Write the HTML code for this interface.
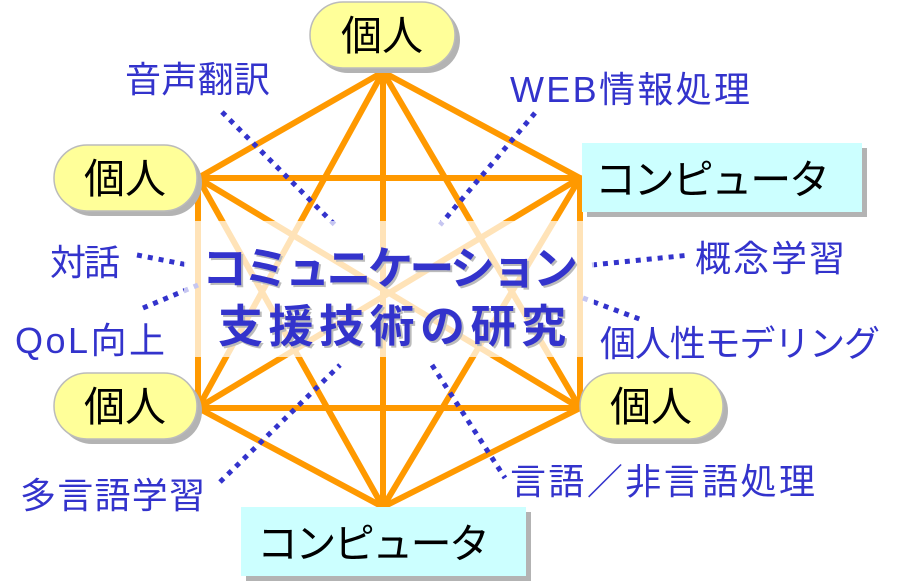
<!DOCTYPE html>
<html><head><meta charset="utf-8"><style>
body{margin:0;width:900px;height:586px;background:#fff;overflow:hidden}
svg{display:block}
.l{font-family:"Liberation Sans","Noto Sans CJK JP",sans-serif;fill:#3333cc;font-size:36px}
.n{font-family:"Liberation Sans","Noto Sans CJK JP",sans-serif;fill:#000;font-size:41px}
.c{font-family:"Liberation Sans","Noto Sans CJK JP",sans-serif;fill:#3333cc;font-size:45px;font-weight:bold}
.cs{font-family:"Liberation Sans","Noto Sans CJK JP",sans-serif;fill:#bbb;font-size:45px;font-weight:bold}
</style></head><body>
<svg width="900" height="586" viewBox="0 0 900 586">
<g stroke="#ff9900" stroke-width="6" fill="none" stroke-linecap="round">
<path d="M383,72 L198,178 L198,408 L383,507 L580,408 L580,178 Z"/>
<path d="M198,178 L580,178 M198,408 L580,408 M383,72 L383,507"/>
<path d="M383,72 L198,408 M383,72 L580,408 M198,178 L580,408 M198,178 L383,507 M580,178 L198,408 M580,178 L383,507"/>
</g>
<g stroke="#3333cc" stroke-width="5" stroke-dasharray="5 6" fill="none">
<path d="M222,112 L335,225"/>
<path d="M535,113 L440,225"/>
<path d="M137,255 L188,265"/>
<path d="M143,308 L198,285"/>
<path d="M592,265 L690,255"/>
<path d="M583,298 L642,320"/>
<path d="M220,482 L340,365"/>
<path d="M432,365 L505,478"/>
</g>
<rect x="184" y="221" width="410" height="136" fill="#fff" opacity="0.72"/>
<g>
<rect x="315" y="7" width="145" height="66" rx="33" fill="#b3b3b3"/>
<rect x="310" y="2" width="145" height="66" rx="33" fill="#ffff99" stroke="#bbb" stroke-width="1.5"/>
<text x="382" y="50" text-anchor="middle" class="n">個人</text>
<rect x="59" y="150" width="143" height="66" rx="33" fill="#b3b3b3"/>
<rect x="54" y="145" width="143" height="66" rx="33" fill="#ffff99" stroke="#bbb" stroke-width="1.5"/>
<text x="125" y="193" text-anchor="middle" class="n">個人</text>
<rect x="59" y="378" width="143" height="66" rx="33" fill="#b3b3b3"/>
<rect x="54" y="373" width="143" height="66" rx="33" fill="#ffff99" stroke="#bbb" stroke-width="1.5"/>
<text x="125" y="421" text-anchor="middle" class="n">個人</text>
<rect x="585" y="378" width="143" height="66" rx="33" fill="#b3b3b3"/>
<rect x="580" y="373" width="143" height="66" rx="33" fill="#ffff99" stroke="#bbb" stroke-width="1.5"/>
<text x="651" y="421" text-anchor="middle" class="n">個人</text>
</g>
<rect x="587" y="148" width="280" height="69" fill="#b3b3b3"/>
<rect x="582" y="143" width="280" height="69" fill="#ccffff"/>
<text x="595" y="194" class="n" textLength="235">コンピュータ</text>
<rect x="246" y="512" width="285" height="69" fill="#b3b3b3"/>
<rect x="241" y="507" width="285" height="69" fill="#ccffff"/>
<text x="257" y="558" class="n" textLength="233">コンピュータ</text>
<text x="125" y="92" class="l" textLength="145">音声翻訳</text>
<text x="510" y="102" class="l" textLength="240">WEB情報処理</text>
<text x="50" y="275" class="l" textLength="70">対話</text>
<text x="15" y="353" class="l" textLength="150">QoL向上</text>
<text x="695" y="271" class="l" textLength="150">概念学習</text>
<text x="600" y="356" class="l" textLength="280">個人性モデリング</text>
<text x="20" y="508" class="l" textLength="185">多言語学習</text>
<text x="510" y="494" class="l" textLength="305">言語／非言語処理</text>
<text x="392" y="286" text-anchor="middle" class="cs" textLength="376">コミュニケーション</text>
<text x="390" y="284" text-anchor="middle" class="c" textLength="376">コミュニケーション</text>
<text x="394" y="344" text-anchor="middle" class="cs" textLength="348">支援技術の研究</text>
<text x="392" y="342" text-anchor="middle" class="c" textLength="348">支援技術の研究</text>
</svg>
</body></html>
